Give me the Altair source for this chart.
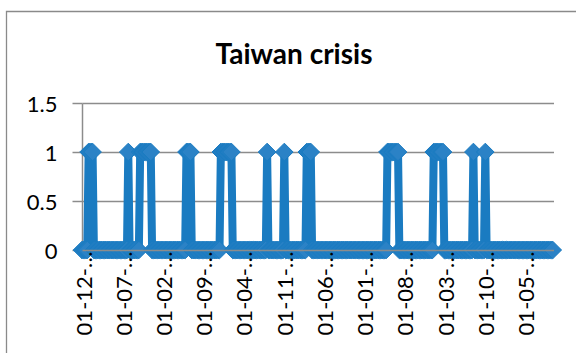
import altair as alt
import pandas as pd

# Crisis episodes (inclusive start / end dates) of the weekly indicator
episode_start = [
    "1995-01-01", "1995-08-01", "1995-10-01", "1996-06-01", "1996-12-01", "1997-08-01",
    "1997-11-01", "1998-03-01", "1999-05-01", "2000-01-01", "2000-08-01", "2000-10-01",
]
episode_end = [
    "1995-02-01", "1995-08-07", "1995-12-01", "1996-07-01", "1997-02-01", "1997-08-07",
    "1997-11-07", "1998-04-01", "1999-07-01", "2000-03-01", "2000-08-07", "2000-10-07",
]
first_day = "1994-12-01"
last_day = "2001-10-01"
# axis labels: first of the month, every seven months
tick_dates = [
    (1994, 12), (1995, 7), (1996, 2), (1996, 9), (1997, 4), (1997, 11),
    (1998, 6), (1999, 1), (1999, 8), (2000, 3), (2000, 10), (2001, 5),
]
y_ticks = [0, 0.5, 1, 1.5]

weeks = pd.date_range(first_day, last_day, freq="7D")
value = pd.Series(0, index=weeks)
for s, e in zip(episode_start, episode_end):
    value[(weeks >= pd.Timestamp(s)) & (weeks <= pd.Timestamp(e))] = 1
df = pd.DataFrame({"date": weeks.strftime("%Y-%m-%d"), "value": value.values})

FONT = "Lato"
BLUE = "#1a7bc1"
GRID = "#8c8c8c"

W, H = 471.5, 147
PAD_L, PAD_T = 82, 103


def dt(s):
    y, m, d = (int(p) for p in s.split("-"))
    return alt.DateTime(year=y, month=m, date=d, utc=True)


x_enc = alt.X(
    "date:T",
    scale=alt.Scale(type="utc", domain=[dt(first_day), dt(last_day)], nice=False),
    axis=alt.Axis(
        title=None,
        values=[alt.DateTime(year=y, month=m, date=1, utc=True) for y, m in tick_dates],
        labelExpr="utcFormat(datum.value, '%d-%m-') + '…'",
        labelAngle=-90,
        labelAlign="right",
        labelBaseline="middle",
        labelPadding=1,
        labelOffset=2,
        labelFont=FONT,
        labelFontSize=22,
        labelColor="#000000",
        labelFlush=False,
        labelOverlap=False,
        ticks=False,
        domainColor=GRID,
        domainWidth=1.5,
        grid=False,
        zindex=1,
    ),
)
y_enc = alt.Y(
    "value:Q",
    scale=alt.Scale(domain=[0, 1.5], nice=False),
    axis=alt.Axis(
        title=None,
        values=y_ticks,
        format="~g",
        labelFont=FONT,
        labelFontSize=22,
        labelColor="#000000",
        labelPadding=15,
        labelOffset=1.5,
        tickSize=10,
        tickColor=GRID,
        tickWidth=1.5,
        domainColor=GRID,
        domainWidth=1.5,
        grid=True,
        gridColor=GRID,
        gridWidth=1.5,
    ),
)

base = alt.Chart(df)

line = base.mark_line(color=BLUE, strokeWidth=8, strokeJoin="miter").encode(x=x_enc, y=y_enc)
points = base.mark_point(
    shape="diamond", filled=True, size=310, fill="#2b82c6", stroke=BLUE, strokeWidth=1, opacity=1
).encode(x=x_enc, y=y_enc)

# outer chart frame
frame = alt.Chart(pd.DataFrame({"k": [0]})).mark_rect(
    fill=None, stroke="#8a8a8a", strokeWidth=1.3
).encode(
    x=alt.value(6.5 - PAD_L), x2=alt.value(620 - PAD_L),
    y=alt.value(11.5 - PAD_T), y2=alt.value(420 - PAD_T),
)

title = alt.Chart(pd.DataFrame({"t": ["Taiwan crisis"]})).mark_text(
    font=FONT, fontSize=28, fontWeight="bold", color="#000000",
    align="center", baseline="alphabetic",
).encode(text="t:N", x=alt.value(294 - PAD_L), y=alt.value(64 - PAD_T))

chart = alt.layer(frame, line, points, title).properties(
    width=W,
    height=H,
    autosize=alt.AutoSizeParams(type="none"),
    padding={"left": PAD_L, "top": PAD_T, "right": 576 - PAD_L - W, "bottom": 353 - PAD_T - H},
    background="white",
).configure_view(stroke=None)

chart.save("out.html", embed_options={"renderer": "svg", "actions": False})
